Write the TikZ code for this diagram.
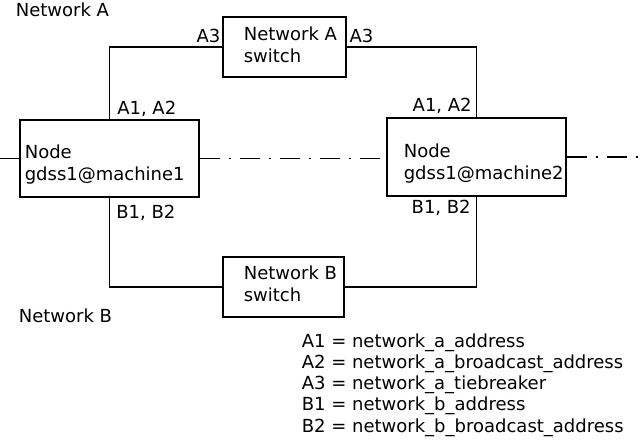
\documentclass[tikz,border=0pt]{standalone}
\usepackage{fontspec}
\setmainfont{DejaVu Sans}
\usetikzlibrary{positioning}

\begin{document}
\begin{tikzpicture}[x=1pt, y=-1pt, line width=1.6pt,
  box/.style={draw, rectangle, inner sep=0pt},
  txt/.style={inner sep=0pt, align=left, font=\fontsize{18}{22}\selectfont},
  dashdot/.style={dash pattern=on 20pt off 9pt on 2pt off 9pt}]
  \useasboundingbox (0,0) rectangle (640,441);

  % Machines
  \node[box, minimum width=179pt, minimum height=77pt] (node1) at (109.5,158.5) {};
  \node[txt, anchor=west] (node1txt) at (24,164.3) {Node\\gdss1@machine1};
  \node[box, minimum width=179pt, minimum height=78pt] (node2) at (476.5,157) {};
  \node[txt, anchor=west] (node2txt) at (403,164) {Node\\gdss1@machine2};

  % Switches
  \node[box, minimum width=123pt, minimum height=60pt] (swA) at (284.5,47) {};
  \node[txt, anchor=west] (swAtxt) at (243,44.3) {Network A\\switch};
  \node[box, minimum width=121pt, minimum height=60pt] (swB) at (283.5,287) {};
  \node[txt, anchor=west] (swBtxt) at (243,283.3) {Network B\\switch};

  % Network A
  \draw (node1.north) |- (swA.west);
  \draw (swA.east) -| (node2.north);
  % Network B
  \draw (node1.south) |- (swB.west);
  \draw (swB.east) -| (node2.south);

  % Links to other nodes
  \coordinate (lft) at (0,158.5);
  \coordinate (rgt) at (640,157);
  \draw (lft) -- (node1.west);
  \draw[dashdot] (node1.east) -- (node1.east -| node2.west);
  \draw[dashdot] (node2.east) -- (rgt);

  % Address labels
  \node[txt, anchor=base east] (a3l) at ([xshift=-1pt, yshift=4pt]swA.west) {A3};
  \node[txt, anchor=base west] (a3r) at ([xshift=2pt, yshift=4pt]swA.east) {A3};
  \node[txt, anchor=base west] (a12l) at ([xshift=7pt, yshift=5pt]node1.north) {A1, A2};
  \node[txt, anchor=base east] (a12r) at ([xshift=-4pt, yshift=6pt]node2.north) {A1, A2};
  \node[txt, anchor=base west] (b12l) at ([xshift=6pt, yshift=-21pt]node1.south) {B1, B2};
  \node[txt, anchor=base east] (b12r) at ([xshift=-5pt, yshift=-17pt]node2.south) {B1, B2};

  % Network names
  \node[txt, anchor=base west] (netA) at (15,17) {Network A};
  \node[txt, anchor=base west] (netB) at (18,322) {Network B};

  % Legend
  \node[txt, anchor=base west] (leg1) at (301,347) {A1 = network\_a\_address};
  \node[txt, anchor=base west] (leg2) at (301,368) {A2 = network\_a\_broadcast\_address};
  \node[txt, anchor=base west] (leg3) at (301,389) {A3 = network\_a\_tiebreaker};
  \node[txt, anchor=base west] (leg4) at (301,410.5) {B1 = network\_b\_address};
  \node[txt, anchor=base west] (leg5) at (301,432) {B2 = network\_b\_broadcast\_address};
\end{tikzpicture}
\end{document}
